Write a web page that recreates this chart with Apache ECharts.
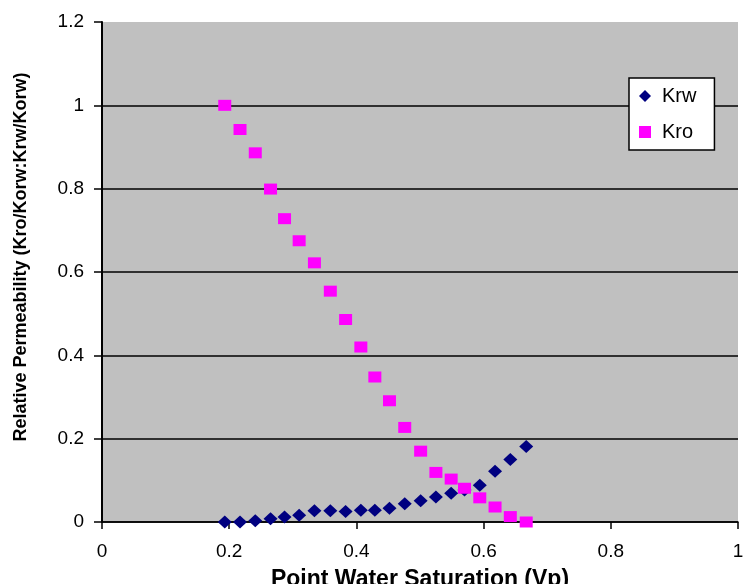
<!DOCTYPE html>
<html>
<head>
<meta charset="utf-8">
<script src="https://cdn.jsdelivr.net/npm/echarts@6/dist/echarts.min.js"></script>
<style>
  html, body { margin: 0; padding: 0; background: #fff; }
  #main { width: 744px; height: 584px; }
</style>
</head>
<body>
<div id="main"></div>
<script>
// point water saturation (Vp), shared by both curves
var saturation = [0.193, 0.217, 0.241, 0.265, 0.287, 0.310, 0.334, 0.359, 0.383, 0.407, 0.429,
                  0.452, 0.476, 0.501, 0.525, 0.549, 0.570, 0.594, 0.618, 0.642, 0.667];
var krw = [0, 0, 0.003, 0.008, 0.012, 0.016, 0.027, 0.027, 0.025, 0.028, 0.028,
           0.033, 0.044, 0.051, 0.060, 0.069, 0.077, 0.088, 0.122, 0.150, 0.181];
var kro = [1.0, 0.942, 0.886, 0.799, 0.728, 0.675, 0.622, 0.554, 0.486, 0.420, 0.348,
           0.291, 0.227, 0.170, 0.119, 0.103, 0.081, 0.058, 0.036, 0.013, 0];
var yTicks = [0, 0.2, 0.4, 0.6, 0.8, 1, 1.2];

function pairs(ys) {
    return saturation.map(function (x, i) { return [x, ys[i]]; });
}

var font = 'Arial, "Liberation Sans", sans-serif';

var option = {
    animation: false,
    grid: {
        left: 102, right: 6, top: 22, bottom: 62,
        containLabel: false,
        outerBoundsMode: 'none',
        show: true,
        backgroundColor: '#c0c0c0',
        borderWidth: 0
    },
    legend: {
        orient: 'vertical',
        left: 629,
        top: 78,
        backgroundColor: '#fff',
        borderColor: '#000',
        borderWidth: 1.5,
        borderRadius: 0,
        padding: [8, 18, 8, 10],
        itemGap: 16,
        itemWidth: 12,
        itemHeight: 12,
        textStyle: { fontFamily: font, fontSize: 20, color: '#000', padding: [0, 0, 0, 6] },
        data: ['Krw', 'Kro']
    },
    xAxis: {
        type: 'value',
        min: 0, max: 1, interval: 0.2,
        name: 'Point Water Saturation (Vp)',
        nameLocation: 'middle',
        nameGap: 46,
        nameTextStyle: { fontFamily: font, fontSize: 23, fontWeight: 'bold', color: '#000' },
        axisLine: { lineStyle: { color: '#000', width: 1.5 } },
        axisTick: { show: true, inside: false, length: 7, lineStyle: { color: '#000', width: 1.5 } },
        axisLabel: {
            margin: 20,
            fontFamily: font, fontSize: 19, color: '#000',
            formatter: function (v) { return String(+v.toFixed(1)); }
        },
        splitLine: { show: false }
    },
    yAxis: {
        type: 'value',
        min: yTicks[0], max: yTicks[yTicks.length - 1], interval: 0.2,
        name: 'Relative Permeability (Kro/Korw:Krw/Korw)',
        nameLocation: 'middle',
        nameGap: 72,
        nameTextStyle: { fontFamily: font, fontSize: 18, fontWeight: 'bold', color: '#000', padding: [0, 0, 0, 30] },
        axisLine: { show: true, lineStyle: { color: '#000', width: 2 } },
        axisTick: { show: true, inside: false, length: 8, lineStyle: { color: '#000', width: 1.5 } },
        axisLabel: {
            margin: 18,
            fontFamily: font, fontSize: 19, color: '#000',
            formatter: function (v) { return String(+v.toFixed(1)); }
        },
        splitLine: {
            show: true,
            lineStyle: { color: ['#000', '#000', '#000', '#000', '#000', '#000', 'rgba(0,0,0,0)'], width: 1.5 }
        }
    },
    series: [
        {
            name: 'Krw',
            type: 'scatter',
            symbol: 'diamond',
            symbolSize: [14, 13],
            itemStyle: { color: '#000080', opacity: 1 },
            data: pairs(krw),
            z: 2
        },
        {
            name: 'Kro',
            type: 'scatter',
            symbol: 'rect',
            symbolSize: [13, 11],
            itemStyle: { color: '#ff00ff', opacity: 1 },
            data: pairs(kro),
            z: 3
        }
    ]
};

var myChart = echarts.init(document.getElementById('main'));
myChart.setOption(option);
</script>
</body>
</html>
